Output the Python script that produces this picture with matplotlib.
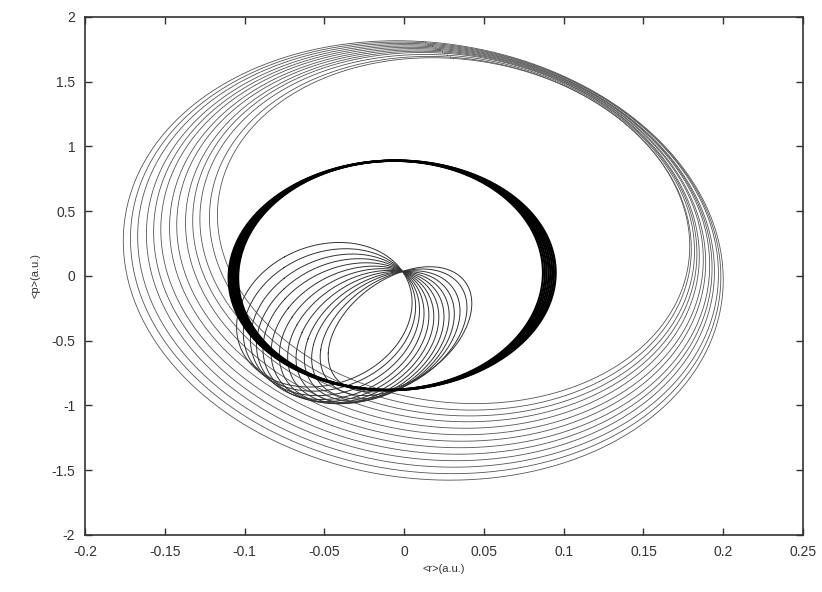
import numpy as np
import matplotlib.pyplot as plt

plt.rcParams['font.family'] = ['Liberation Sans', 'DejaVu Sans']

# large precessing orbits: x = cx + a cos t, y = cy + b sin t + c cos t
big_cx = [0.012, 0.0135, 0.015, 0.0165, 0.018, 0.0195, 0.021, 0.0225, 0.024, 0.0255, 0.027, 0.029, 0.031]
big_cy = [0.12, 0.14, 0.16, 0.18, 0.20, 0.22, 0.24, 0.26, 0.28, 0.30, 0.315, 0.33, 0.35]
big_a = [0.188, 0.185, 0.182, 0.178, 0.175, 0.172, 0.168, 0.165, 0.161, 0.158, 0.155, 0.151, 0.148]
big_b = [1.69, 1.66, 1.63, 1.60, 1.57, 1.54, 1.51, 1.48, 1.45, 1.42, 1.39, 1.36, 1.33]
big_c = [-0.15, -0.148, -0.145, -0.143, -0.14, -0.138, -0.135, -0.133, -0.13, -0.128, -0.125, -0.123, -0.12]

# thick stationary orbit (many nearly identical loops)
ring_cx = [-0.0085, -0.0083, -0.0082, -0.008, -0.0079, -0.0077, -0.0076, -0.0075]
ring_cy = [0.005, 0.005, 0.005, 0.005, 0.005, 0.005, 0.005, 0.005]
ring_a = [0.0955, 0.0965, 0.0975, 0.0985, 0.0995, 0.1005, 0.1015, 0.1025]
ring_b = [0.884, 0.884, 0.885, 0.885, 0.886, 0.886, 0.887, 0.887]
ring_c = [0.02, 0.02, 0.02, 0.02, 0.02, 0.02, 0.02, 0.02]

# small orbits, all starting from the same point (p0x, p0y)
p0x, p0y = -0.001, 0.035
small_a = [0.055, 0.054, 0.053, 0.0525, 0.052, 0.051, 0.050, 0.049, 0.048, 0.047, 0.0465, 0.046, 0.045]
small_b = [0.55, 0.54, 0.535, 0.53, 0.52, 0.51, 0.50, 0.49, 0.48, 0.47, 0.46, 0.45, 0.44]
small_c = [0.095, 0.104, 0.113, 0.122, 0.13, 0.139, 0.148, 0.157, 0.165, 0.174, 0.183, 0.191, 0.20]
small_phi = [27, 32, 37, 42, 47, 52, 57, 62, 67, 72, 77, 83, 88]

xticks = [-0.2, -0.15, -0.1, -0.05, 0, 0.05, 0.1, 0.15, 0.2, 0.25]
xlabels = ['-0.2', '-0.15', '-0.1', '-0.05', '0', '0.05', '0.1', '0.15', '0.2', '0.25']
yticks = [-2, -1.5, -1, -0.5, 0, 0.5, 1, 1.5, 2]
ylabels = ['-2', '-1.5', '-1', '-0.5', '0', '0.5', '1', '1.5', '2']

t = np.linspace(0.5 * np.pi, 2.5 * np.pi, 700)

fig = plt.figure(figsize=(8.22, 5.92), dpi=100)
ax = fig.add_axes([0.1034, 0.0963, 0.8735, 0.875])

for cx, cy, a, b, c in zip(big_cx, big_cy, big_a, big_b, big_c):
    ax.plot(cx + a * np.cos(t), cy + b * np.sin(t) + c * np.cos(t),
            color='#555555', lw=0.6)

for a, b, c, ph in zip(small_a, small_b, small_c, small_phi):
    ph = np.radians(ph)
    x = p0x + a * (np.cos(t + ph) - np.cos(ph))
    y = p0y + b * (np.sin(t + ph) - np.sin(ph)) + c * (np.cos(t + ph) - np.cos(ph))
    ax.plot(x, y, color='#333333', lw=0.7)

for cx, cy, a, b, c in zip(ring_cx, ring_cy, ring_a, ring_b, ring_c):
    ax.plot(cx + a * np.cos(t), cy + b * np.sin(t) + c * np.cos(t),
            color='black', lw=1.5, solid_capstyle='round')

ax.set_xlim(-0.2, 0.25)
ax.set_ylim(-2, 2)
ax.set_xticks(xticks)
ax.set_xticklabels(xlabels)
ax.set_yticks(yticks)
ax.set_yticklabels(ylabels)
ax.tick_params(direction='in', length=5, width=1, top=True, right=True,
               labelsize=10, colors='#333333', pad=7)
for s in ax.spines.values():
    s.set_linewidth(1.2)
    s.set_color('#333333')

ax.set_xlabel('<r>(a.u.)', fontsize=8, color='#333333', labelpad=4)
ax.set_ylabel('<p>(a.u.)', fontsize=8, color='#333333', labelpad=8)

fig.savefig('out.png', dpi=100)
